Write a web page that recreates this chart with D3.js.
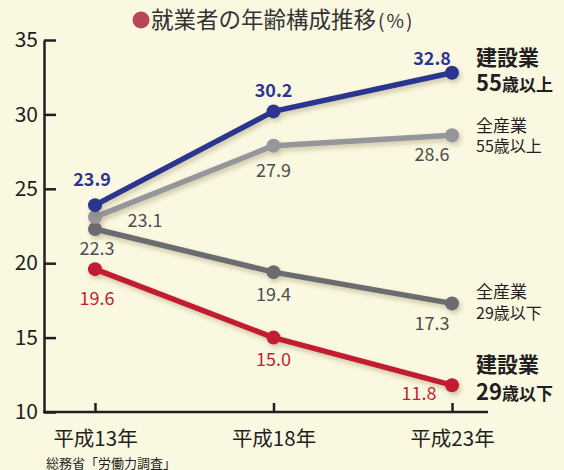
<!DOCTYPE html>
<html>
<head>
<meta charset="utf-8">
<script src="https://cdn.jsdelivr.net/npm/d3@7"></script>
<style>
  html, body { margin: 0; padding: 0; background: #fbf8e2; }
  svg { display: block; font-family: "Noto Sans CJK JP", "Noto Sans", sans-serif; }
</style>
</head>
<body>
<div id="svgContainer"></div>
<script>
// data
var years = ["平成13年", "平成18年", "平成23年"];
var con55 = [23.9, 30.2, 32.8];   // 建設業 55歳以上
var all55 = [23.1, 27.9, 28.6];   // 全産業 55歳以上
var all29 = [22.3, 19.4, 17.3];   // 全産業 29歳以下
var con29 = [19.6, 15.0, 11.8];   // 建設業 29歳以下
var yTicks = [10, 15, 20, 25, 30, 35];

var width = 564, height = 470;

var svg = d3.select("#svgContainer")
    .append("svg")
    .attr("width", width)
    .attr("height", height);

svg.append("rect").attr("width", width).attr("height", height).attr("fill", "#fbf8e2");

var defs = svg.append("defs");
defs.append("filter")
    .attr("id", "shadow")
    .attr("x", "-20%").attr("y", "-40%")
    .attr("width", "140%").attr("height", "180%")
    .append("feDropShadow")
    .attr("dx", 2).attr("dy", 3)
    .attr("stdDeviation", 2.5)
    .attr("flood-color", "#7a6a30")
    .attr("flood-opacity", 0.35);

var xScale = d3.scalePoint().domain(years).range([95, 452]);
var yScale = d3.scaleLinear().domain([10, 35]).range([412, 40]);

// title
var title = svg.append("g");
title.append("circle").attr("cx", 141).attr("cy", 20).attr("r", 8.5).attr("fill", "#b84657");
var titleText = title.append("text")
    .attr("x", 151).attr("y", 28)
    .attr("fill", "#333")
    .style("font-size", "22.5px");
titleText.append("tspan").text("就業者の年齢構成推移");
titleText.append("tspan")
    .style("font-size", "19px")
    .style("letter-spacing", "2px")
    .attr("dx", 2)
    .text("(%)");

// y axis
var yAxis = svg.append("g")
    .attr("transform", "translate(44,0)")
    .call(d3.axisLeft(yScale).tickValues(yTicks).tickSizeInner(-12).tickSizeOuter(0).tickPadding(6));
yAxis.select(".domain").attr("stroke", "#231f20").attr("stroke-width", 2.5);
yAxis.selectAll(".tick line").attr("stroke", "#231f20").attr("stroke-width", 2.5);
yAxis.selectAll(".tick text")
    .attr("fill", "#231f20")
    .style("font-family", "'Noto Sans CJK JP', sans-serif")
    .style("font-size", "21px");

// x axis
var xAxis = svg.append("g")
    .attr("transform", "translate(0,412)")
    .call(d3.axisBottom(xScale).tickSizeInner(-9).tickSizeOuter(0));
xAxis.select(".domain").remove();
xAxis.selectAll(".tick line").attr("stroke", "#231f20").attr("stroke-width", 2.5);
xAxis.selectAll(".tick text")
    .attr("y", 34).attr("dy", 0)
    .attr("fill", "#231f20")
    .style("font-family", "'Noto Sans CJK JP', sans-serif")
    .style("font-size", "20.5px");
svg.append("line")
    .attr("x1", 43).attr("x2", 488)
    .attr("y1", 412).attr("y2", 412)
    .attr("stroke", "#231f20").attr("stroke-width", 2.5);

// series
var series = [
    { name: "all29", values: all29, color: "#6b6c70", labelColor: "#4d4d50", bold: false,
      offs: [[2, 26], [0, 29], [-20, 27]] },
    { name: "all55", values: all55, color: "#95969b", labelColor: "#4d4d50", bold: false,
      offs: [[50, 10], [0, 31], [-20, 26]] },
    { name: "con29", values: con29, color: "#c21f32", labelColor: "#c21f32", bold: false,
      offs: [[2, 36], [0, 28], [-33, 15]] },
    { name: "con55", values: con55, color: "#2b3590", labelColor: "#2b3590", bold: true,
      offs: [[-3, -19], [0, -14], [-20, -8]] }
];

var line = d3.line()
    .x((d, i) => xScale(years[i]))
    .y(d => yScale(d));

series.forEach(s => {
    var g = svg.append("g").attr("filter", "url(#shadow)");
    g.append("path")
        .datum(s.values)
        .attr("fill", "none")
        .attr("stroke", s.color)
        .attr("stroke-width", 5.5)
        .attr("stroke-linejoin", "round")
        .attr("d", line);
    g.selectAll("circle")
        .data(s.values)
        .enter()
        .append("circle")
        .attr("cx", (d, i) => xScale(years[i]))
        .attr("cy", d => yScale(d))
        .attr("r", 7)
        .attr("fill", s.color);
});

series.forEach(s => {
    svg.append("g").selectAll("text")
        .data(s.values)
        .enter()
        .append("text")
        .attr("x", (d, i) => xScale(years[i]) + s.offs[i][0])
        .attr("y", (d, i) => yScale(d) + s.offs[i][1])
        .attr("text-anchor", "middle")
        .attr("fill", s.labelColor)
        .style("font-size", "18px")
        .style("font-weight", s.bold ? "bold" : "normal")
        .text(d => d.toFixed(1));
});

// right labels
function rightLabel(y1, y2, line1, num, rest, bold) {
    var g = svg.append("g").attr("fill", "#231f20");
    g.append("text")
        .attr("x", 476).attr("y", y1)
        .style("font-size", bold ? "21px" : "17px")
        .style("font-weight", bold ? "bold" : "normal")
        .text(line1);
    var t = g.append("text")
        .attr("x", 476).attr("y", y2)
        .style("font-weight", bold ? "bold" : "normal");
    t.append("tspan").style("font-size", bold ? "22px" : "16px").text(num);
    t.append("tspan").style("font-size", bold ? "17px" : "16px").text(rest);
}
rightLabel(65, 91, "建設業", "55", "歳以上", true);
rightLabel(132, 152, "全産業", "55", "歳以上", false);
rightLabel(298, 319, "全産業", "29", "歳以下", false);
rightLabel(372, 400, "建設業", "29", "歳以下", true);

// source
svg.append("text")
    .attr("x", 46).attr("y", 468)
    .attr("fill", "#231f20")
    .style("font-size", "13px")
    .text("総務省「労働力調査」");
</script>
</body>
</html>
